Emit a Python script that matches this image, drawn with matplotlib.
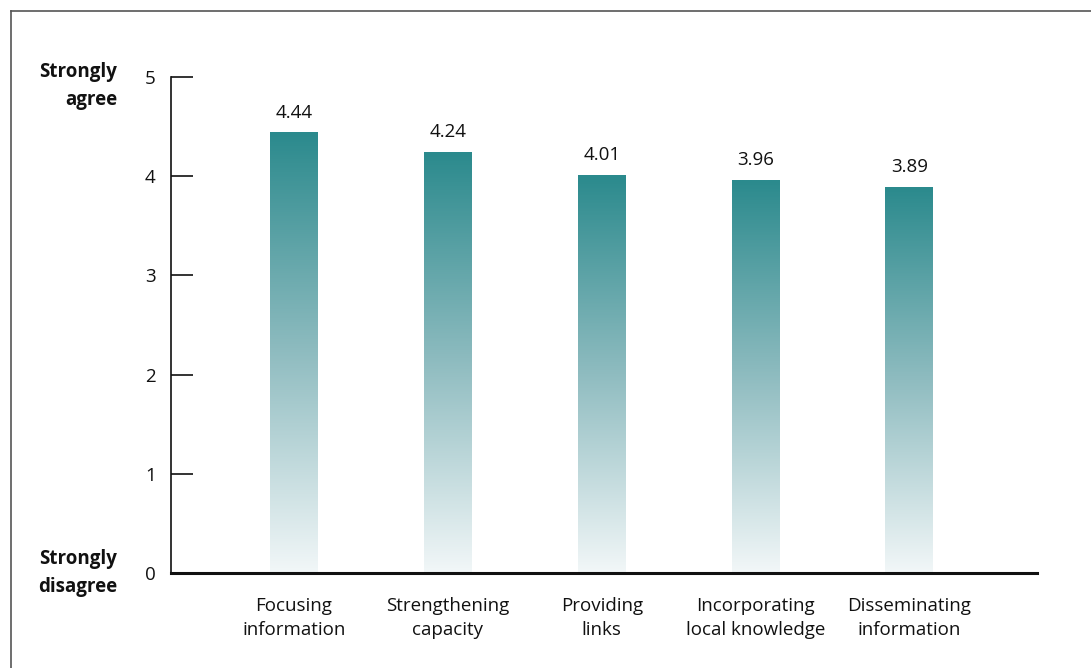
import numpy as np
import matplotlib
matplotlib.use("Agg")
from matplotlib import pyplot as plt
from matplotlib.colors import LinearSegmentedColormap
from matplotlib.lines import Line2D

categories = ["Focusing\ninformation", "Strengthening\ncapacity", "Providing\nlinks",
              "Incorporating\nlocal knowledge", "Disseminating\ninformation"]
values = [4.44, 4.24, 4.01, 3.96, 3.89]
yticks = [0, 1, 2, 3, 4, 5]

plt.rcParams['font.family'] = ['Open Sans', 'DejaVu Sans']

W, H = 1091, 668
fig = plt.figure(figsize=(W / 100, H / 100), dpi=100)
ax = fig.add_axes([171 / W, 1 - 573 / H, (1037 - 171) / W, (573 - 77) / H])

# frame around the picture (only top and left visible)
fig.add_artist(Line2D([11 / W, 1.0], [1 - 11 / H, 1 - 11 / H], color="#555555", lw=1.2))
fig.add_artist(Line2D([11 / W, 11 / W], [1 - 11 / H, 0.0], color="#555555", lw=1.2))

cmap = LinearSegmentedColormap.from_list("teal", ["#f2f7f8", "#8fbcc0", "#2b8a8d"])
grad = np.linspace(0, 1, 256).reshape(-1, 1)

x = np.arange(len(values))
w = 0.31
for xi, v in zip(x, values):
    ax.imshow(grad, extent=[xi - w / 2, xi + w / 2, 0, v], origin="lower",
              cmap=cmap, aspect="auto", zorder=2)
    ax.text(xi, v + 0.11, f"{v:.2f}", ha="center", va="bottom", fontsize=13.5, color="#111111")

ax.set_xlim(-0.80, 4.83)
ax.set_ylim(0, 5)
ax.set_xticks(x)
ax.set_xticklabels(categories, fontsize=13.5, color="#111111", linespacing=1.45)
ax.set_yticks(yticks)
ax.set_yticklabels([str(t) for t in yticks], fontsize=13.5, color="#111111")
ax.tick_params(axis="x", length=0, pad=17)
ax.tick_params(axis="y", direction="in", length=16, width=1.2, pad=11, color="#111111")

for s in ["top", "right"]:
    ax.spines[s].set_visible(False)
ax.spines["left"].set_linewidth(1.2)
ax.spines["bottom"].set_linewidth(2.2)
ax.spines["left"].set_color("#111111")
ax.spines["bottom"].set_color("#111111")

fig.text(117 / W, 1 - 86 / H, "Strongly\nagree", ha="right", va="center",
         fontsize=13.5, fontweight="bold", color="#111111", linespacing=1.5)
fig.text(117 / W, 1 - 573 / H, "Strongly\ndisagree", ha="right", va="center",
         fontsize=13.5, fontweight="bold", color="#111111", linespacing=1.5)

fig.savefig("out.png", dpi=100)
